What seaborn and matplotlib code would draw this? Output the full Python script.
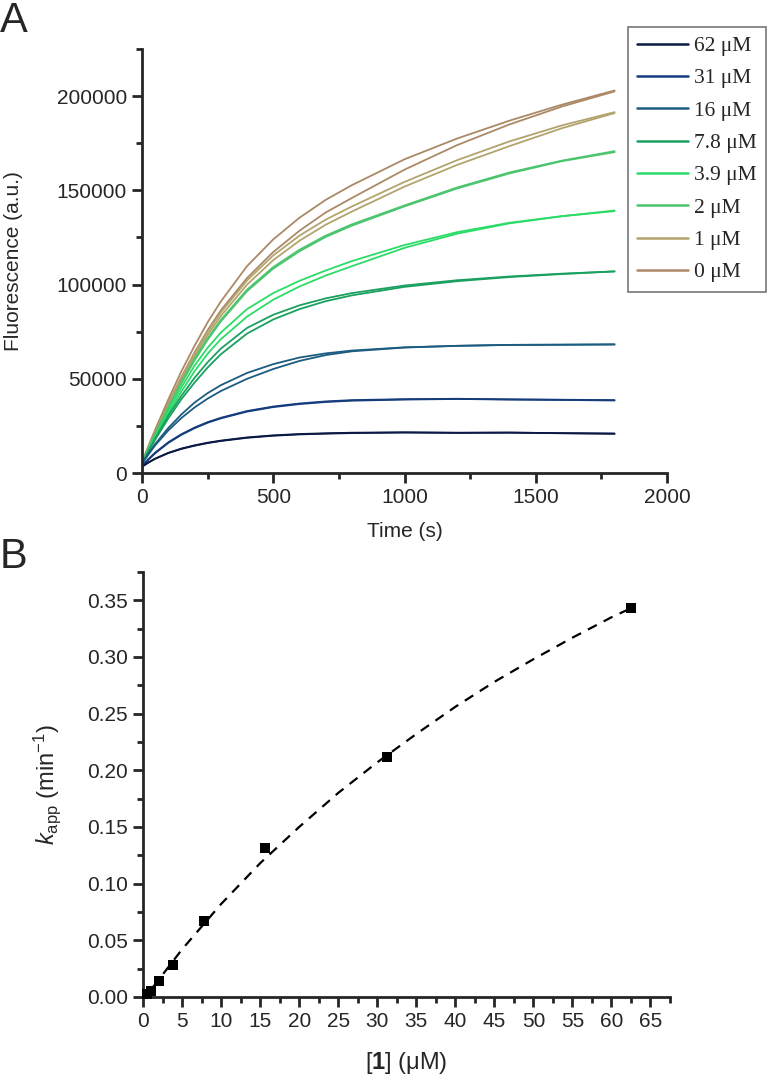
import numpy as np
import pandas as pd
import matplotlib
matplotlib.use('Agg')
import matplotlib.pyplot as plt
from matplotlib.lines import Line2D
from matplotlib.ticker import MultipleLocator, FormatStrFormatter
import seaborn as sns

# ---- panel A: fluorescence traces (two replicates per concentration) ----
time_s = [0, 25, 50, 100, 150, 200, 250, 300, 400, 500, 600, 700, 800, 1000, 1200, 1400, 1600, 1800]

conc_labels = ['62 μM', '31 μM', '16 μM', '7.8 μM', '3.9 μM', '2 μM', '1 μM', '0 μM']

f_62_a = [3500, 5700, 7600, 10600, 12800, 14500, 15900, 17000, 18700, 19800, 20500, 20900, 21200, 21500, 21300, 21500, 21100, 20800]
f_62_b = [3300, 5600, 7600, 10700, 13000, 14700, 16100, 17200, 18900, 20000, 20700, 21100, 21400, 21600, 21400, 21400, 21200, 21000]
f_31_a = [3500, 7200, 10500, 16000, 20300, 23800, 26700, 29000, 32600, 35000, 36600, 37700, 38400, 39000, 39300, 39000, 38800, 38500]
f_31_b = [3700, 7500, 10800, 16300, 20600, 24100, 27000, 29300, 32900, 35300, 36900, 38000, 38700, 39200, 39400, 39100, 38900, 38700]
f_16_a = [5000, 10400, 15400, 23900, 31100, 37400, 42400, 46600, 53100, 57800, 61300, 63500, 65000, 66700, 67500, 68000, 68100, 68200]
f_16_b = [5000, 10000, 14700, 22600, 29200, 34800, 39500, 43500, 50000, 55200, 59500, 62600, 64600, 66600, 67500, 68000, 68100, 68300]
f_78_a = [5000, 11800, 18300, 30500, 41000, 50500, 58800, 66000, 77000, 84000, 89000, 92700, 95500, 99500, 102300, 104300, 105800, 107000]
f_78_b = [5000, 11500, 17700, 29000, 39200, 48000, 56000, 63000, 74000, 81500, 87000, 91200, 94300, 98800, 101800, 104000, 105600, 107000]
f_39_a = [5500, 12600, 19500, 33000, 45500, 57000, 66500, 74500, 87000, 95500, 102000, 107500, 112500, 121000, 127800, 132800, 136300, 139000]
f_39_b = [5500, 12300, 18900, 31500, 43300, 54000, 63300, 71000, 83000, 92000, 99000, 104800, 109800, 119500, 127000, 132500, 136300, 139300]
f_2_a = [5500, 13200, 20700, 35000, 48300, 60500, 71500, 81200, 97300, 109300, 118500, 126000, 132000, 142000, 151500, 159500, 165800, 170800]
f_2_b = [5500, 13000, 20400, 34500, 47600, 59700, 70700, 80400, 96500, 108500, 117700, 125300, 131300, 141500, 151000, 159000, 165500, 170300]
f_1_a = [5500, 13600, 21400, 36500, 50500, 63500, 75000, 85200, 102200, 115500, 126000, 134500, 141500, 154500, 166000, 176000, 184500, 191500]
f_1_b = [5500, 13400, 21000, 35800, 49500, 62000, 73300, 83300, 100000, 113000, 123300, 131800, 138800, 152000, 163500, 173500, 183000, 191000]
f_0_a = [6000, 14600, 23000, 39000, 54000, 67500, 80000, 91000, 109800, 124000, 135500, 145000, 152800, 166500, 177500, 187000, 195500, 203000]
f_0_b = [5500, 13800, 21800, 37000, 51000, 64000, 75800, 86300, 103500, 117300, 128600, 138300, 146000, 161000, 174000, 185000, 194500, 202500]

trace_colors = ['#0b1a45', '#153c7d', '#1c5c80', '#1aa060', '#2cdc68', '#4cc56e', '#b3a36c', '#ab8966']

# ---- panel B: kapp vs [1] ----
conc_uM = [0.5, 1.0, 2.0, 3.9, 7.8, 15.6, 31.25, 62.5]
kapp = [0.003, 0.005, 0.014, 0.028, 0.067, 0.131, 0.212, 0.343]
fit_x = [1.2, 5, 10, 15, 20, 25, 30, 35, 40, 45, 50, 55, 60, 62.5]
fit_y = [0.008, 0.042, 0.082, 0.118, 0.150, 0.180, 0.207, 0.232, 0.256, 0.278, 0.298, 0.317, 0.335, 0.343]

sns.set_style('ticks')
plt.rcParams['font.family'] = ['Liberation Sans', 'DejaVu Sans']
plt.rcParams['mathtext.fontset'] = 'custom'
plt.rcParams['mathtext.rm'] = 'Liberation Sans'
plt.rcParams['mathtext.it'] = 'Liberation Sans:italic'
plt.rcParams['mathtext.bf'] = 'Liberation Sans:bold'

traces = {
    '62 μM': (f_62_a, f_62_b), '31 μM': (f_31_a, f_31_b), '16 μM': (f_16_a, f_16_b),
    '7.8 μM': (f_78_a, f_78_b), '3.9 μM': (f_39_a, f_39_b), '2 μM': (f_2_a, f_2_b),
    '1 μM': (f_1_a, f_1_b), '0 μM': (f_0_a, f_0_b),
}
rows = []
for lab in conc_labels:
    for rep, vals in enumerate(traces[lab]):
        for t, f in zip(time_s, vals):
            rows.append({'time': t, 'fluor': f, 'conc': lab, 'rep': rep})
df = pd.DataFrame(rows)
palette = dict(zip(conc_labels, trace_colors))

fig = plt.figure(figsize=(7.74, 10.8), dpi=100)
ax1 = fig.add_axes([0.1835, 0.562, 0.6783, 0.3926])
ax2 = fig.add_axes([0.1848, 0.0769, 0.6808, 0.3935])

# 0 µM drawn first so the blue traces sit on top
sns.lineplot(data=df, x='time', y='fluor', hue='conc', units='rep', estimator=None,
             hue_order=conc_labels[::-1], palette=palette, linewidth=1.3,
             legend=False, ax=ax1)

tick_fs = 15
for ax in (ax1, ax2):
    sns.despine(ax=ax)
    for s in ('left', 'bottom'):
        ax.spines[s].set_linewidth(2.0)
    ax.tick_params(which='major', direction='out', length=7, width=2.0, labelsize=tick_fs, pad=4)
    ax.tick_params(which='minor', direction='out', length=4, width=2.0)

ax1.set_xlim(0, 2000)
ax1.set_ylim(0, 225000)
ax1.xaxis.set_major_locator(MultipleLocator(500))
ax1.xaxis.set_minor_locator(MultipleLocator(250))
ax1.yaxis.set_major_locator(MultipleLocator(50000))
ax1.yaxis.set_minor_locator(MultipleLocator(25000))
ax1.set_xlabel('Time (s)', fontsize=15)
ax1.set_ylabel('Fluorescence (a.u.)', fontsize=15)
ax1.xaxis.set_label_coords(0.5, -0.115)
ax1.yaxis.set_label_coords(-0.227, 0.5)

handles = [Line2D([0], [0], color=palette[lab], lw=1.8) for lab in conc_labels]
leg = fig.legend(handles, conc_labels, loc='upper left', bbox_to_anchor=(0.811, 0.975),
                 prop={'family': 'Liberation Serif', 'size': 15.5}, frameon=True, fancybox=False,
                 edgecolor='#555555', handlelength=2.4, handletextpad=0.25, labelspacing=0.57,
                 borderpad=0.42, borderaxespad=0)
leg.get_frame().set_linewidth(1.2)

# panel B
bdf = pd.DataFrame({'conc': conc_uM, 'kapp': kapp})
fdf = pd.DataFrame({'x': fit_x, 'y': fit_y})
sns.lineplot(data=fdf, x='x', y='y', color='black', linewidth=1.6, ax=ax2,
             linestyle=(0, (4.5, 3.5)))
sns.scatterplot(data=bdf, x='conc', y='kapp', marker='s', s=48, color='black',
                edgecolor='black', linewidth=0, ax=ax2, zorder=3, clip_on=False)

ax2.set_xlim(0, 67.5)
ax2.set_ylim(0, 0.375)
ax2.xaxis.set_major_locator(MultipleLocator(5))
ax2.xaxis.set_minor_locator(MultipleLocator(2.5))
ax2.yaxis.set_major_locator(MultipleLocator(0.05))
ax2.yaxis.set_minor_locator(MultipleLocator(0.025))
ax2.yaxis.set_major_formatter(FormatStrFormatter('%.2f'))
ax2.set_xlabel(r'[$\mathbf{1}$] (μM)', fontsize=17)
ax2.set_ylabel(r'$k_{\mathrm{app}}$ (min$^{-1}$)', fontsize=17)
ax2.xaxis.set_label_coords(0.5, -0.125)
ax2.yaxis.set_label_coords(-0.152, 0.5)

fig.text(0.0, 0.999, 'A', fontsize=30, va='top', ha='left')
fig.text(0.0, 0.503, 'B', fontsize=30, va='top', ha='left')

fig.savefig('out.png', dpi=100)
